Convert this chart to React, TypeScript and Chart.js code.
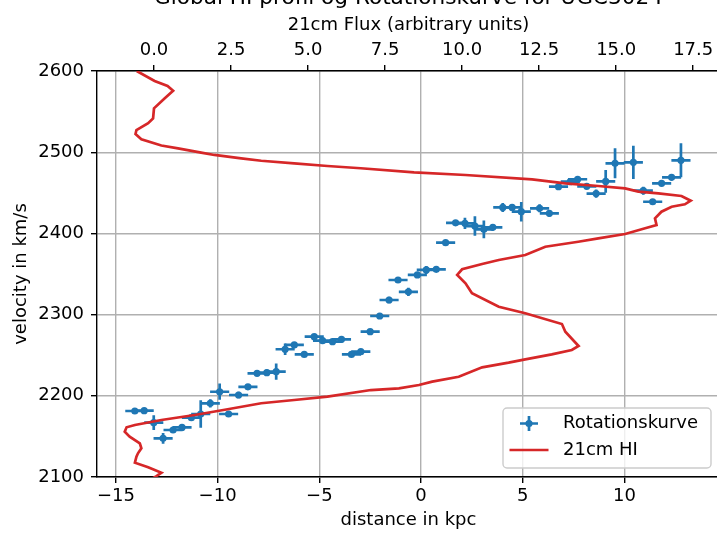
import React, { useEffect, useRef } from "react";
import { Chart, registerables } from "chart.js";

Chart.register(...registerables);

// Rotation curve: projected distance (kpc) vs line-of-sight velocity (km/s)
const distanceKpc = [
  -14.07, -13.61, -13.14, -12.68, -12.19, -11.75, -11.29, -10.83, -10.36, -9.9,
  -9.46, -8.97, -8.51, -8.06, -7.58, -7.12, -6.68, -6.23, -5.74, -5.25,
  -4.84, -4.35, -3.91, -3.42, -2.96, -2.5, -2.03, -1.57, -1.13, -0.62,
  -0.18, 0.26, 0.75, 1.21, 1.7, 2.16, 2.65, 3.09, 3.53, 4.02,
  4.48, 4.93, 5.83, 6.31, 6.76, 7.34, 7.7, 8.15, 8.61, 9.08,
  9.54, 10.44, 10.93, 11.39, 11.83, 12.32, 12.78,
];
const velocityKms = [
  2181.3, 2181.7, 2166.9, 2147.6, 2157.9, 2161, 2173, 2177.6, 2190.7, 2205,
  2177.6, 2201, 2211, 2227.7, 2228.5, 2229.7, 2257.3, 2262.6, 2251, 2272.8,
  2267.9, 2266.7, 2269.6, 2251, 2254.3, 2279, 2298.3, 2318, 2342.6, 2328,
  2348.8, 2355, 2355.8, 2388.6, 2413, 2412.4, 2409, 2405, 2407.5, 2432,
  2432, 2426.7, 2430.9, 2424.7, 2457.5, 2463.7, 2466.7, 2458, 2449, 2464,
  2486.3, 2487.5, 2452.6, 2439, 2461.7, 2469, 2490,
];
const distanceErr = [
  0.47, 0.47, 0.47, 0.47, 0.47, 0.47, 0.47, 0.47, 0.47, 0.47,
  0.47, 0.47, 0.47, 0.47, 0.47, 0.47, 0.47, 0.47, 0.47, 0.47,
  0.47, 0.47, 0.47, 0.47, 0.47, 0.47, 0.47, 0.47, 0.47, 0.47,
  0.47, 0.47, 0.47, 0.47, 0.47, 0.47, 0.47, 0.47, 0.47, 0.47,
  0.47, 0.47, 0.47, 0.47, 0.47, 0.47, 0.47, 0.47, 0.47, 0.47,
  0.47, 0.47, 0.47, 0.47, 0.47, 0.47, 0.47,
];
const velocityErr = [
  3, 3, 9, 6.5, 3, 3, 3, 17, 5, 10,
  3, 4, 3, 3, 4, 10, 7, 3, 3, 3,
  3, 3, 4, 3, 3, 3, 3, 4, 3, 5,
  3, 5, 3, 3, 3, 7, 12, 11, 4, 5.5,
  4, 12, 5, 4, 3, 3, 4, 3, 5, 14,
  18.5, 20.5, 5, 3, 3, 4, 21,
];

// Global HI profile: flux (arbitrary units) vs velocity (km/s)
const hiFlux = [
  -0.56, 0.02, 0.44, 0.62, 0.35, 0.0, -0.03, -0.19, -0.57, -0.6,
  -0.41, 0.24, 0.78, 1.53, 1.96, 2.83, 3.48, 4.55, 5.63, 6.71,
  8.44, 10.11, 12.27, 13.35, 14.42, 15.29, 15.72, 16.37, 17.12, 17.42,
  17.23, 16.8, 16.47, 16.26, 16.31, 15.94, 15.29, 14.42, 13.77, 12.7,
  12.05, 11.19, 10.65, 10.0, 9.84, 10.11, 10.32, 11.19, 12.05, 13.24,
  13.35, 13.78, 13.56, 12.91, 12.05, 11.51, 10.65, 9.89, 9.03, 8.6,
  7.95, 7.04, 5.63, 4.55, 3.48, 2.39, 1.32, 0.24, -0.62, -0.89,
  -0.95, -0.79, -0.46, -0.41, -0.52, -0.57, -0.62, -0.19, 0.24, 0.08,
  -0.14,
];
const hiVelocity = [
  2600, 2587.7, 2581.5, 2575.7, 2566.4, 2554.1, 2541.7, 2535.6, 2527.3, 2522.4,
  2515.9, 2508.3, 2504.8, 2499.4, 2496.6, 2492.5, 2489.5, 2486.3, 2483, 2480.2,
  2475.2, 2471.9, 2466.6, 2461.7, 2458.4, 2455.5, 2451.4, 2449.4, 2446.1, 2440.3,
  2435.8, 2432.9, 2426.7, 2418.6, 2410.3, 2406.3, 2399.3, 2393.9, 2389.7, 2383.6,
  2373.4, 2367.2, 2362.3, 2355.8, 2348.8, 2338.5, 2326.2, 2309.7, 2301.6, 2288.4,
  2278.9, 2261.3, 2256.4, 2251.1, 2244.9, 2240.8, 2235.1, 2223.5, 2217.4, 2213.3,
  2209.2, 2207.1, 2198.9, 2194.8, 2190.8, 2183.4, 2176.4, 2170.2, 2164, 2161.2,
  2155.8, 2149.6, 2141.5, 2135.3, 2129.2, 2125, 2117.6, 2111.9, 2105.3, 2101.2,
  2096,
];

const distanceTicks = [-15, -10, -5, 0, 5, 10];
const fluxTicks = [0, 2.5, 5, 7.5, 10, 12.5, 15, 17.5];
const velocityTicks = [2100, 2200, 2300, 2400, 2500, 2600];

const titleText = "Global HI profil og Rotationskurve for UGC3024";
const seriesLabels = ["Rotationskurve", "21cm HI"];

const BLUE = "#1f77b4";
const RED = "#d62728";
const FONT = "'DejaVu Sans', sans-serif";
const tickFont = { family: FONT, size: 18, lineHeight: 1.2 };

const fmtSigned = (v: number) => (v < 0 ? "\u2212" + Math.abs(v) : String(v));

// Error bars for the rotation curve, drawn beneath the markers
const errorBarPlugin = {
  id: "errorBars",
  beforeDatasetsDraw(chart: any) {
    const { ctx, scales } = chart;
    const xs = scales.x;
    const ys = scales.y;
    ctx.save();
    ctx.strokeStyle = BLUE;
    ctx.lineWidth = 2.7;
    ctx.lineCap = "butt";
    for (let i = 0; i < distanceKpc.length; i++) {
      const d = distanceKpc[i];
      const v = velocityKms[i];
      const py = ys.getPixelForValue(v);
      const px = xs.getPixelForValue(d);
      ctx.beginPath();
      ctx.moveTo(xs.getPixelForValue(d - distanceErr[i]), py);
      ctx.lineTo(xs.getPixelForValue(d + distanceErr[i]), py);
      ctx.moveTo(px, ys.getPixelForValue(v - velocityErr[i]));
      ctx.lineTo(px, ys.getPixelForValue(v + velocityErr[i]));
      ctx.stroke();
    }
    ctx.restore();
  },
};

// Figure title above the top axis
const titlePlugin = {
  id: "figTitle",
  afterDraw(chart: any) {
    const { ctx, chartArea } = chart;
    ctx.save();
    ctx.fillStyle = "#000";
    ctx.font = `21.6px ${FONT}`;
    ctx.textAlign = "center";
    ctx.textBaseline = "alphabetic";
    ctx.fillText(titleText, (chartArea.left + chartArea.right) / 2, 3.5);
    ctx.restore();
  },
};

// Boxed legend in the lower right corner
const legendPlugin = {
  id: "boxLegend",
  afterDraw(chart: any) {
    const { ctx, chartArea } = chart;
    const w = 208;
    const h = 60;
    const x0 = chartArea.right - 9 - w;
    const y0 = chartArea.bottom - 9 - h;
    ctx.save();
    const r = 4;
    ctx.beginPath();
    ctx.moveTo(x0 + r, y0);
    ctx.lineTo(x0 + w - r, y0);
    ctx.arcTo(x0 + w, y0, x0 + w, y0 + r, r);
    ctx.lineTo(x0 + w, y0 + h - r);
    ctx.arcTo(x0 + w, y0 + h, x0 + w - r, y0 + h, r);
    ctx.lineTo(x0 + r, y0 + h);
    ctx.arcTo(x0, y0 + h, x0, y0 + h - r, r);
    ctx.lineTo(x0, y0 + r);
    ctx.arcTo(x0, y0, x0 + r, y0, r);
    ctx.closePath();
    ctx.fillStyle = "rgba(255,255,255,0.8)";
    ctx.fill();
    ctx.strokeStyle = "#cccccc";
    ctx.lineWidth = 1.4;
    ctx.stroke();

    const row1 = y0 + 15.5;
    const row2 = y0 + 42;
    const sx = x0 + 26;

    // errorbar symbol
    ctx.strokeStyle = BLUE;
    ctx.lineWidth = 2.7;
    ctx.beginPath();
    ctx.moveTo(sx - 9, row1);
    ctx.lineTo(sx + 9, row1);
    ctx.moveTo(sx, row1 - 7.5);
    ctx.lineTo(sx, row1 + 7.5);
    ctx.stroke();
    ctx.fillStyle = BLUE;
    ctx.beginPath();
    ctx.arc(sx, row1, 3.6, 0, Math.PI * 2);
    ctx.fill();

    // line symbol
    ctx.strokeStyle = RED;
    ctx.beginPath();
    ctx.moveTo(sx - 19.5, row2);
    ctx.lineTo(sx + 19.5, row2);
    ctx.stroke();

    ctx.fillStyle = "#000";
    ctx.font = `18px ${FONT}`;
    ctx.textAlign = "left";
    ctx.textBaseline = "middle";
    ctx.fillText(seriesLabels[0], x0 + 60, row1);
    ctx.fillText(seriesLabels[1], x0 + 60, row2);
    ctx.restore();
  },
};

const gridCommon = {
  color: "#b0b0b0",
  lineWidth: 1.4,
  tickColor: "#000",
  tickLength: 6,
  tickWidth: 1.4,
};

export default function App() {
  const canvasRef = useRef<HTMLCanvasElement | null>(null);

  useEffect(() => {
    const canvas = canvasRef.current;
    if (!canvas) return;
    const chart = new Chart(canvas, {
      type: "scatter",
      data: {
        datasets: [
          {
            label: seriesLabels[0],
            data: distanceKpc.map((d, i) => ({ x: d, y: velocityKms[i] })),
            xAxisID: "x",
            yAxisID: "y",
            showLine: false,
            pointRadius: 3.6,
            pointBorderWidth: 0,
            pointBackgroundColor: BLUE,
            pointBorderColor: BLUE,
            order: 1,
          },
          {
            label: seriesLabels[1],
            data: hiFlux.map((f, i) => ({ x: f, y: hiVelocity[i] })),
            xAxisID: "x2",
            yAxisID: "y",
            showLine: true,
            borderColor: RED,
            borderWidth: 2.7,
            pointRadius: 0,
            tension: 0,
            order: 0,
          } as any,
        ],
      },
      options: {
        responsive: false,
        animation: false,
        devicePixelRatio: 1,
        layout: { padding: { left: 0, right: 2, top: 0, bottom: 0 } },
        plugins: {
          legend: { display: false },
          tooltip: { enabled: false },
          title: { display: false },
        },
        scales: {
          x: {
            type: "linear",
            position: "bottom",
            min: -15.93,
            max: 14.7,
            afterBuildTicks: (s: any) => {
              s.ticks = distanceTicks.map((v) => ({ value: v }));
            },
            afterFit: (s: any) => {
              s.height = 56;
            },
            ticks: {
              color: "#000",
              font: tickFont,
              padding: 3,
              maxRotation: 0,
              callback: (v: any) => fmtSigned(Number(v)),
            },
            grid: gridCommon,
            border: { color: "#000", width: 1.4 },
            title: {
              display: true,
              text: "distance in kpc",
              color: "#000",
              font: tickFont,
              padding: { top: 0, bottom: 2 },
            },
          },
          x2: {
            type: "linear",
            position: "top",
            min: -1.85,
            max: 18.37,
            afterBuildTicks: (s: any) => {
              s.ticks = fluxTicks.map((v) => ({ value: v }));
            },
            afterFit: (s: any) => {
              s.height = 71;
            },
            ticks: {
              color: "#000",
              font: tickFont,
              padding: 4,
              maxRotation: 0,
              callback: (v: any) => Number(v).toFixed(1),
            },
            grid: { ...gridCommon, drawOnChartArea: false },
            border: { color: "#000", width: 1.4 },
            title: {
              display: true,
              text: "21cm Flux (arbitrary units)",
              color: "#000",
              font: tickFont,
              padding: { top: 15, bottom: 0 },
            },
          },
          y: {
            type: "linear",
            position: "left",
            min: 2100,
            max: 2600,
            afterBuildTicks: (s: any) => {
              s.ticks = velocityTicks.map((v) => ({ value: v }));
            },
            afterFit: (s: any) => {
              s.width = 97;
            },
            ticks: {
              color: "#000",
              font: tickFont,
              padding: 7,
              callback: (v: any) => String(v),
            },
            grid: gridCommon,
            border: { color: "#000", width: 1.4 },
            title: {
              display: true,
              text: "velocity in km/s",
              color: "#000",
              font: tickFont,
              padding: { top: 11, bottom: 0 },
            },
          },
        },
      } as any,
      plugins: [errorBarPlugin, titlePlugin, legendPlugin],
    });
    return () => chart.destroy();
  }, []);

  return (
    <div
      style={{
        position: "fixed",
        left: 0,
        top: 0,
        width: 717,
        height: 533,
        overflow: "hidden",
        background: "#fff",
      }}
    >
      <canvas
        ref={canvasRef}
        width={724}
        height={533}
        style={{ display: "block", width: 724, height: 533 }}
      />
    </div>
  );
}
